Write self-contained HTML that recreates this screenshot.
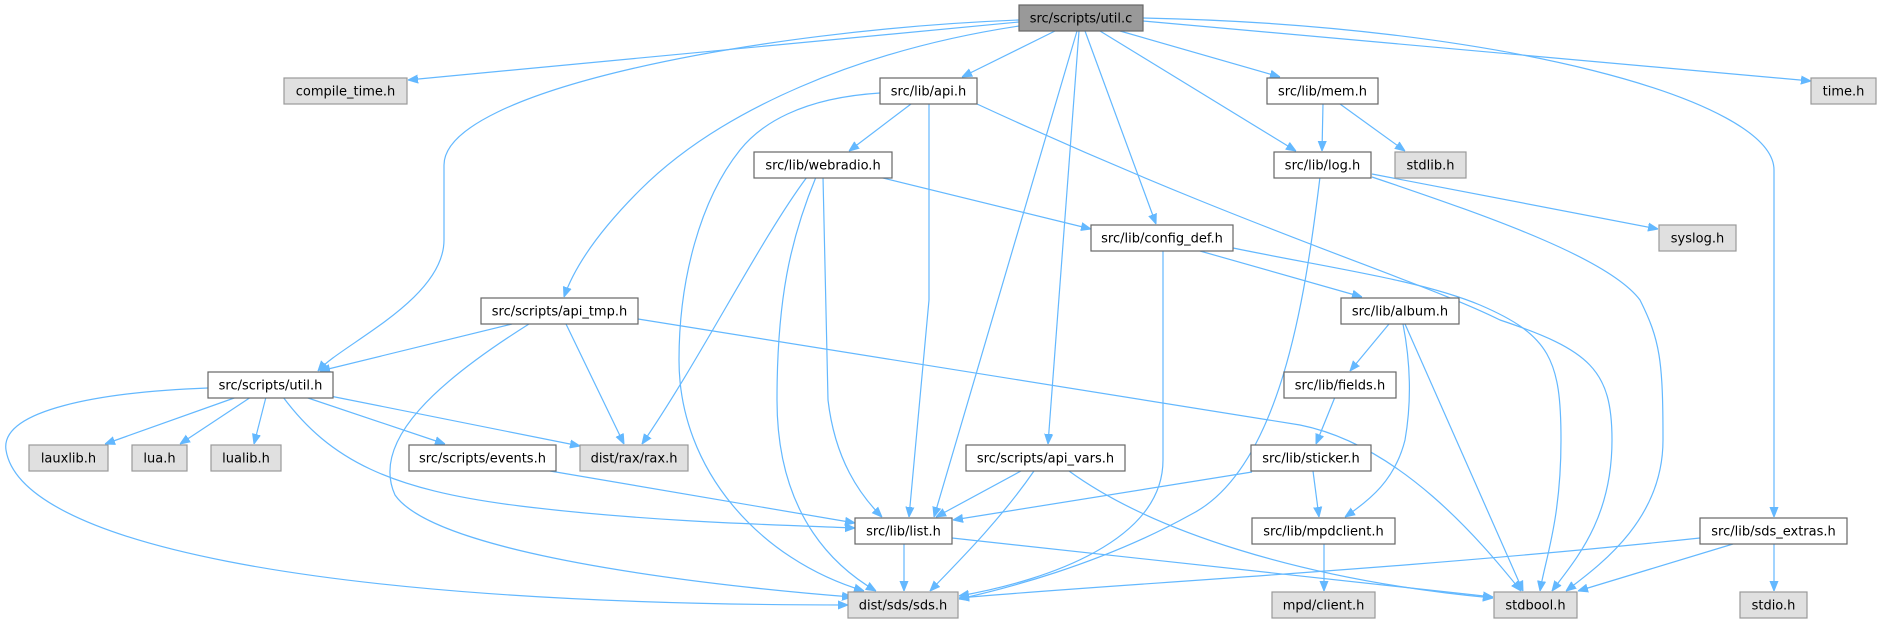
<!DOCTYPE html>
<html><head><meta charset="utf-8"><style>
html,body{margin:0;padding:0;background:#fff;}
svg{display:block;}
text{font-family:"DejaVu Sans","Liberation Sans",sans-serif;font-size:13px;fill:#000;}
.e{fill:none;stroke:#63b8ff;stroke-width:1.2;marker-end:url(#a);}
.w{fill:#fff;stroke:#666;stroke-width:1.2;}
.g{fill:#e0e0e0;stroke:#999;stroke-width:1.2;}
.d{fill:#999;stroke:#666;stroke-width:1.2;}
</style></head><body>
<svg width="1880" height="623" viewBox="0 0 1880 623" xmlns="http://www.w3.org/2000/svg">
<defs><marker id="a" viewBox="0 0 10 10" refX="10" refY="5" markerWidth="10" markerHeight="10" markerUnits="userSpaceOnUse" orient="auto"><path d="M0,1 L10,5 L0,9 z" fill="#63b8ff" stroke="#63b8ff"/></marker></defs>
<g>
<!-- util.c edges -->
<path class="e" d="M1019,22 L408,80"/>
<path class="e" d="M1019,20 C760,30 444,90 444,165 L444,240 C444,300 340,345 318,371"/>
<path class="e" d="M1019,26 C860,50 720,110 640,190 C600,230 575,265 564,297"/>
<path class="e" d="M1055,31 L962,77"/>
<path class="e" d="M1077,31 L934,517"/>
<path class="e" d="M1079,31 L1048,444"/>
<path class="e" d="M1085,31 L1156,224"/>
<path class="e" d="M1100,31 L1296,151"/>
<path class="e" d="M1120,31 L1280,77"/>
<path class="e" d="M1143,21 L1811,81"/>
<path class="e" d="M1143,18 C1500,25 1774,100 1774,170 L1774,517"/>
<!-- api.h -->
<path class="e" d="M911,104 L849,151"/>
<path class="e" d="M880,93 C800,98 760,125 740,150 C700,200 679,280 679,360 C679,470 760,560 864,591"/>
<path class="e" d="M929,104 L929,300 L909,517"/>
<path class="e" d="M977,104 C1250,230 1420,280 1500,320 C1590,350 1612,370 1612,440 C1612,520 1575,560 1552,591"/>
<!-- webradio -->
<path class="e" d="M807,177 C760,240 700,360 642,444"/>
<path class="e" d="M816,177 C790,240 777,300 777,400 C777,520 840,570 876,591"/>
<path class="e" d="M823,177 L828,400 C835,460 860,495 882,517"/>
<path class="e" d="M879,177 L1091,229"/>
<!-- mem -->
<path class="e" d="M1323,104 L1322,151"/>
<path class="e" d="M1340,104 L1405,151"/>
<!-- log -->
<path class="e" d="M1320,177 C1305,300 1280,470 1190,515 C1100,565 1000,590 959,599"/>
<path class="e" d="M1372,174 L1658,229"/>
<path class="e" d="M1372,177 C1500,220 1610,260 1640,300 C1660,340 1663,360 1663,440 C1663,520 1600,565 1566,591"/>
<!-- config_def -->
<path class="e" d="M1163,251 L1163,460 C1163,540 1050,580 959,596"/>
<path class="e" d="M1200,251 L1362,297"/>
<path class="e" d="M1233,248 C1330,268 1420,280 1480,305 C1550,335 1561,360 1561,440 C1561,520 1545,560 1540,591"/>
<!-- api_tmp -->
<path class="e" d="M512,324 L320,371"/>
<path class="e" d="M566,324 L624,444"/>
<path class="e" d="M529,324 C440,380 370,440 395,495 C440,560 760,590 852,597"/>
<path class="e" d="M638,319 L1300,425 C1400,445 1480,540 1521,591"/>
<!-- album -->
<path class="e" d="M1389,324 L1350,371"/>
<path class="e" d="M1403,324 C1410,360 1412,400 1405,440 C1395,480 1370,500 1345,517"/>
<path class="e" d="M1405,324 L1523,591"/>
<!-- fields -->
<path class="e" d="M1335,397 L1316,444"/>
<!-- util.h -->
<path class="e" d="M237,397 L105,444"/>
<path class="e" d="M251,397 L180,444"/>
<path class="e" d="M266,397 L254,444"/>
<path class="e" d="M305,397 L445,444"/>
<path class="e" d="M330,396 L580,446"/>
<path class="e" d="M283,397 C330,460 390,490 520,506 C650,522 780,525 855,528"/>
<path class="e" d="M208,388 C100,392 0,410 6,450 C20,540 300,605 848,605"/>
<!-- events -->
<path class="e" d="M550,471 L855,523"/>
<!-- api_vars -->
<path class="e" d="M1021,471 L936,517"/>
<path class="e" d="M1034,471 C1000,520 960,560 930,591"/>
<path class="e" d="M1069,471 C1150,530 1300,580 1493,598"/>
<!-- sticker -->
<path class="e" d="M1252,472 L953,520"/>
<path class="e" d="M1313,471 L1319,517"/>
<!-- list -->
<path class="e" d="M904,544 L904,591"/>
<path class="e" d="M952,538 L1493,597"/>
<!-- mpdclient -->
<path class="e" d="M1324,544 L1324,591"/>
<!-- sds_extras -->
<path class="e" d="M1700,538 C1400,570 1100,585 959,598"/>
<path class="e" d="M1733,544 L1578,591"/>
<path class="e" d="M1774,544 L1774,591"/>
</g>
<g>
<rect class="d" x="1019" y="5" width="124" height="26"/><text x="1081" y="22.5" text-anchor="middle">src/scripts/util.c</text>
<rect class="g" x="284" y="78" width="123" height="26"/><text x="345.5" y="95.5" text-anchor="middle">compile_time.h</text>
<rect class="w" x="880" y="78" width="97" height="26"/><text x="928.5" y="95.5" text-anchor="middle">src/lib/api.h</text>
<rect class="w" x="1267" y="78" width="111" height="26"/><text x="1322.5" y="95.5" text-anchor="middle">src/lib/mem.h</text>
<rect class="g" x="1811" y="78" width="65" height="26"/><text x="1843.5" y="95.5" text-anchor="middle">time.h</text>
<rect class="w" x="754" y="152" width="138" height="26"/><text x="823" y="169.5" text-anchor="middle">src/lib/webradio.h</text>
<rect class="w" x="1274" y="152" width="97" height="26"/><text x="1322.5" y="169.5" text-anchor="middle">src/lib/log.h</text>
<rect class="g" x="1395" y="152" width="71" height="26"/><text x="1430.5" y="169.5" text-anchor="middle">stdlib.h</text>
<rect class="w" x="1091" y="225" width="142" height="26"/><text x="1162" y="242.5" text-anchor="middle">src/lib/config_def.h</text>
<rect class="g" x="1659" y="225" width="77" height="26"/><text x="1697.5" y="242.5" text-anchor="middle">syslog.h</text>
<rect class="w" x="481" y="298" width="157" height="26"/><text x="559.5" y="315.5" text-anchor="middle">src/scripts/api_tmp.h</text>
<rect class="w" x="1341" y="298" width="118" height="26"/><text x="1400" y="315.5" text-anchor="middle">src/lib/album.h</text>
<rect class="w" x="208" y="372" width="125" height="26"/><text x="270.5" y="389.5" text-anchor="middle">src/scripts/util.h</text>
<rect class="w" x="1284" y="372" width="112" height="26"/><text x="1340" y="389.5" text-anchor="middle">src/lib/fields.h</text>
<rect class="g" x="29" y="445" width="79" height="26"/><text x="68.5" y="462.5" text-anchor="middle">lauxlib.h</text>
<rect class="g" x="132" y="445" width="55" height="26"/><text x="159.5" y="462.5" text-anchor="middle">lua.h</text>
<rect class="g" x="211" y="445" width="70" height="26"/><text x="246" y="462.5" text-anchor="middle">lualib.h</text>
<rect class="w" x="409" y="445" width="147" height="26"/><text x="482.5" y="462.5" text-anchor="middle">src/scripts/events.h</text>
<rect class="g" x="580" y="445" width="108" height="26"/><text x="634" y="462.5" text-anchor="middle">dist/rax/rax.h</text>
<rect class="w" x="966" y="445" width="159" height="26"/><text x="1045.5" y="462.5" text-anchor="middle">src/scripts/api_vars.h</text>
<rect class="w" x="1251" y="445" width="120" height="26"/><text x="1311" y="462.5" text-anchor="middle">src/lib/sticker.h</text>
<rect class="w" x="855" y="518" width="97" height="26"/><text x="903.5" y="535.5" text-anchor="middle">src/lib/list.h</text>
<rect class="w" x="1252" y="518" width="143" height="26"/><text x="1323.5" y="535.5" text-anchor="middle">src/lib/mpdclient.h</text>
<rect class="w" x="1700" y="518" width="147" height="26"/><text x="1773.5" y="535.5" text-anchor="middle">src/lib/sds_extras.h</text>
<rect class="g" x="848" y="592" width="110" height="26"/><text x="903" y="609.5" text-anchor="middle">dist/sds/sds.h</text>
<rect class="g" x="1272" y="592" width="103" height="26"/><text x="1323.5" y="609.5" text-anchor="middle">mpd/client.h</text>
<rect class="g" x="1494" y="592" width="83" height="26"/><text x="1535.5" y="609.5" text-anchor="middle">stdbool.h</text>
<rect class="g" x="1740" y="592" width="67" height="26"/><text x="1773.5" y="609.5" text-anchor="middle">stdio.h</text>
</g>
</svg>
</body></html>
